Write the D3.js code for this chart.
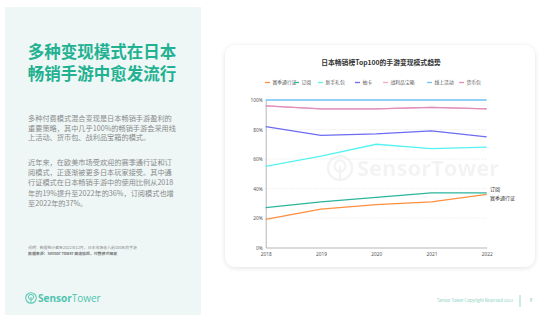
<!DOCTYPE html>
<html><head><meta charset="utf-8">
<script src="https://cdn.jsdelivr.net/npm/d3@7"></script>
<style>
html,body{margin:0;padding:0;background:#fff;}
svg{display:block;font-family:"Noto Sans CJK SC","Noto Sans",sans-serif;}
</style></head><body>
<svg id="c" width="554" height="322"></svg>
<script>
const years = ["2018","2019","2020","2021","2022"];
const seriesNames = ["赛季通行证","订阅","新手礼包","抽卡","战利品宝箱","线上活动","货币包"];
const seriesColors = ["#FF8F3F","#2BB59B","#55F2F2","#6B6CF2","#F2A9C9","#6CC4F4","#DE8FBB"];
const passValues = [19,26,29,31,36];
const subValues = [27,31,34,37,37];
const starterValues = [55,62,70,67,68];
const gachaValues = [82,76,77,79,75];
const lootValues = [96,94,94,95,94];
const liveValues = [100,100,100,100,100];
const currencyValues = [96,94,94,95,94];
const yTicks = [0,20,40,60,80,100];
const allValues = [passValues,subValues,starterValues,gachaValues,lootValues,liveValues,currencyValues];

const svg = d3.select("#c");
const teal = "#22B191";

// left panel
svg.append("rect").attr("x",5).attr("y",7).attr("width",196).attr("height",308).attr("fill","#EEF7F6");
svg.append("text").attr("x",102).attr("y",58).attr("text-anchor","middle").attr("font-size",16.5).attr("font-weight",700).attr("fill",teal).text("多种变现模式在日本");
svg.append("text").attr("x",102).attr("y",80).attr("text-anchor","middle").attr("font-size",16.5).attr("font-weight",700).attr("fill",teal).text("畅销手游中愈发流行");
const p1 = ["多种付费模式混合变现是日本畅销手游盈利的","重要策略，其中几乎100%的畅销手游会采用线","上活动、货币包、战利品宝箱的模式。"];
const p2 = ["近年来，在欧美市场受欢迎的赛季通行证和订","阅模式，正逐渐被更多日本玩家接受。其中通","行证模式在日本畅销手游中的使用比例从2018","年的19%提升至2022年的36%，订阅模式也增","至2022年的37%。"];
p1.forEach((t,i)=>svg.append("text").attr("x",28).attr("y",121+i*9.7).attr("font-size",7.2).attr("fill","#8A8A8A").text(t));
p2.forEach((t,i)=>svg.append("text").attr("x",28).attr("y",165+i*10.2).attr("font-size",7.2).attr("fill","#8A8A8A").text(t));
svg.append("text").attr("x",28).attr("y",249).attr("font-size",3.9).attr("fill","#888").text("说明：数据统计截至2022年12月，日本市场收入前100名的手游");
svg.append("text").attr("x",28).attr("y",255).attr("font-size",3.9).attr("font-weight",700).attr("fill","#777").text("数据来源：Sensor Tower 商店情报，付费模式细览");
// logo
const lg = svg.append("g");
lg.append("circle").attr("cx",31).attr("cy",298).attr("r",5.3).attr("fill","none").attr("stroke","#5CC9B4").attr("stroke-width",1.1);
lg.append("circle").attr("cx",31).attr("cy",297).attr("r",2.6).attr("fill","none").attr("stroke","#5CC9B4").attr("stroke-width",1);
lg.append("line").attr("x1",31).attr("x2",31).attr("y1",297).attr("y2",303).attr("stroke","#5CC9B4").attr("stroke-width",1);
const lt = lg.append("text").attr("x",38).attr("y",301.5).attr("font-size",10).attr("fill","#4FC4AE").attr("font-family","'Open Sans',sans-serif");
lt.append("tspan").attr("font-weight",700).text("Sensor");
lt.append("tspan").attr("font-weight",400).text("Tower");

// footer
svg.append("text").attr("x",513).attr("y",302).attr("text-anchor","end").attr("font-size",4.2).attr("fill","#7FCFC0").text("Sensor Tower Copyright Reserved 2022");
svg.append("line").attr("x1",520).attr("x2",520).attr("y1",295).attr("y2",307).attr("stroke","#7FCFC0").attr("stroke-width",0.8);
svg.append("text").attr("x",531).attr("y",302).attr("text-anchor","middle").attr("font-size",4.5).attr("fill","#5CC0AE").text("9");

// card
const defs = svg.append("defs");
const f = defs.append("filter").attr("id","sh").attr("x","-10%").attr("y","-10%").attr("width","120%").attr("height","120%");
f.append("feDropShadow").attr("dx",0).attr("dy",1).attr("stdDeviation",2.5).attr("flood-color","#000").attr("flood-opacity",0.12);
svg.append("rect").attr("x",225).attr("y",45).attr("width",310).attr("height",222).attr("rx",11).attr("fill","#fff").attr("filter","url(#sh)");

svg.append("text").attr("x",381).attr("y",65).attr("text-anchor","middle").attr("font-size",6.8).attr("font-weight",700).attr("fill","#333").text("日本畅销榜Top100的手游变现模式趋势");

// legend
const legX = [265,294,318,355,383,427,459];
seriesNames.forEach((n,i)=>{
  svg.append("line").attr("x1",legX[i]).attr("x2",legX[i]+5).attr("y1",82.5).attr("y2",82.5).attr("stroke",seriesColors[i]).attr("stroke-width",1.3);
  svg.append("text").attr("x",legX[i]+7.5).attr("y",84.3).attr("font-size",4.8).attr("fill","#555").text(n);
});

// scales
const x = d3.scalePoint().domain(years).range([265.7,486.7]);
const y = d3.scaleLinear().domain([0,100]).range([247.5,100]);

// watermark
const wm = svg.append("g").attr("opacity",0.045);
wm.append("circle").attr("cx",340).attr("cy",168).attr("r",12).attr("fill","none").attr("stroke","#000").attr("stroke-width",2.5);
wm.append("circle").attr("cx",340).attr("cy",166).attr("r",5.5).attr("fill","none").attr("stroke","#000").attr("stroke-width",2.2);
wm.append("line").attr("x1",340).attr("x2",340).attr("y1",166).attr("y2",180).attr("stroke","#000").attr("stroke-width",2.2);
wm.append("text").attr("x",357).attr("y",176).attr("font-size",22).attr("font-weight",700).attr("fill","#000").attr("font-family","'Open Sans',sans-serif").text("SensorTower");

// grid
svg.append("g").selectAll("line").data(yTicks.filter(d=>d>0)).join("line")
  .attr("x1",265.7).attr("x2",486.7).attr("y1",d=>y(d)).attr("y2",d=>y(d))
  .attr("stroke","#D8D8D8").attr("stroke-width",0.5).attr("stroke-dasharray","1.5,1.5");

// axes
const ya = svg.append("g").attr("transform","translate(265.7,0)").call(d3.axisLeft(y).tickValues(yTicks).tickFormat(d=>d+"%").tickSize(0).tickPadding(3));
ya.select(".domain").attr("stroke","#999").attr("stroke-width",0.7);
ya.selectAll("text").attr("font-size",4.8).attr("fill","#555").attr("font-family","'Noto Sans',sans-serif");
const xa = svg.append("g").attr("transform","translate(0,247.5)").call(d3.axisBottom(x).tickSize(0).tickPadding(5));
xa.select(".domain").attr("stroke","#999").attr("stroke-width",0.7);
xa.selectAll("text").attr("font-size",4.8).attr("fill","#555").attr("font-family","'Noto Sans',sans-serif");

// lines (draw order so that top ones cover)
const line = d3.line().x((d,i)=>x(years[i])).y(d=>y(d));
const order = [4,6,5,3,2,0,1];
order.forEach(i=>{
  svg.append("path").attr("d",line(allValues[i])).attr("fill","none").attr("stroke",seriesColors[i]).attr("stroke-width",1.3);
});

// end labels
svg.append("text").attr("x",490).attr("y",191).attr("font-size",5).attr("fill","#333").text("订阅");
svg.append("text").attr("x",490).attr("y",200).attr("font-size",5).attr("fill","#333").text("赛季通行证");
</script>
</body></html>
